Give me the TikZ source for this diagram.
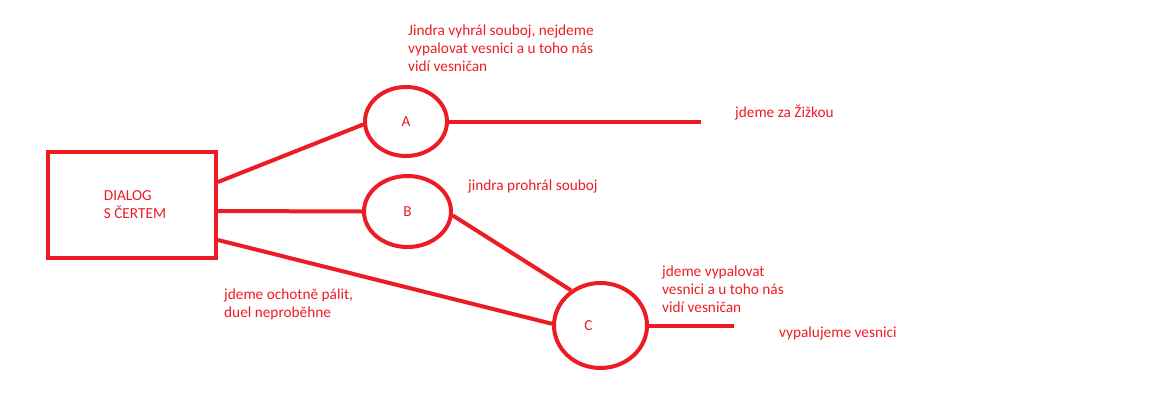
\documentclass[tikz,border=0pt]{standalone}
\usepackage{fontspec}
\setmainfont{Carlito}
\usetikzlibrary{shapes.geometric}
\definecolor{pred}{HTML}{ED1C24}
\tikzset{
  fnt/.style={font=\fontsize{15.3}{18}\selectfont},
  stroke/.style={draw=pred, line width=4pt},
  oval/.style={stroke, ellipse, inner sep=0pt, text=pred, fnt},
  txt/.style={text=pred, inner sep=0pt, align=left, anchor=west, fnt},
  wire/.style={draw=pred, line width=4pt}
}
\begin{document}
\begin{tikzpicture}[x=1pt,y=-1pt]
\useasboundingbox (0,0) rectangle (1152,407);
\node[stroke, rectangle, minimum width=168pt, minimum height=106pt, inner sep=0pt,
  label={[text=pred, align=left, fnt, xshift=3pt]center:DIALOG\\S ČERTEM}] (dialog) at (132,205) {};
\node[oval, minimum width=82pt, minimum height=69pt] (A) at (406,121.5) {A};
\node[oval, minimum width=87pt, minimum height=71pt] (B) at (407.5,211.5) {B};
\node[oval, minimum width=93pt, minimum height=85pt,
  label={[text=pred, xshift=-12pt, fnt]center:C}] (C) at (600.5,325.5) {};
\coordinate (aend) at (701,121.5);
\coordinate (cend) at (734,325.5);
\draw[wire] ([yshift=23pt]dialog.east) -- (A.184);
\draw[wire] ([yshift=-6pt]dialog.east) -- (B.west);
\draw[wire] ([yshift=-35pt]dialog.east) -- (C.178);
\draw[wire] (A.east) -- (aend);
\draw[wire] (B.-5) -- (C.130);
\draw[wire] (C.east) -- (cend);
\node[txt] (t1) at (408,48) {Jindra vyhrál souboj, nejdeme\\vypalovat vesnici a u toho nás\\vidí vesničan};
\node[txt] (t2) at (735,113) {jdeme za Žižkou};
\node[txt] (t3) at (468,186) {jindra prohrál souboj};
\node[txt] (t4) at (662,289) {jdeme vypalovat\\vesnici a u toho nás\\vidí vesničan};
\node[txt] (t5) at (779,333) {vypalujeme vesnici};
\node[txt] (t6) at (224,304.5) {jdeme ochotně pálit,\\duel neproběhne};
\end{tikzpicture}
\end{document}
